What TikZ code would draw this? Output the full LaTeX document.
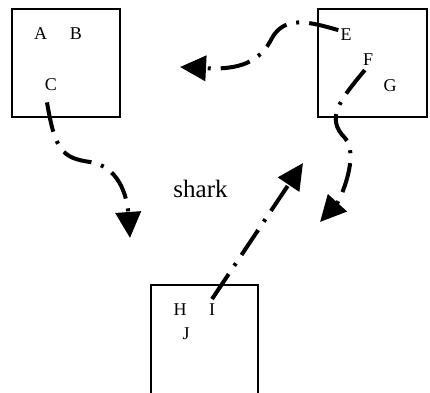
\documentclass[tikz,border=0pt]{standalone}
\usepackage{fontspec}
\setmainfont{Liberation Serif}
\usetikzlibrary{arrows.meta}
\begin{document}
\begin{tikzpicture}[x=1pt,y=-1pt,
		lbl/.style={inner sep=1pt,anchor=base,font=\fontsize{18}{20}\selectfont},
		flow/.style={line width=4pt,dash pattern=on 30pt off 10pt on 3pt off 10pt,
			-{Triangle[length=26pt,width=25pt]}}]
		\useasboundingbox (0,0) rectangle (430,392);
		% the three boxes
		\draw[line width=1.8pt] (12,9) rectangle (120,117);
		\draw[line width=1.8pt] (318,9) rectangle (427,117);
		\draw[line width=1.8pt] (151,393) -- (151,285) -- (258,285) -- (258,393);
		% letters
		\node[lbl] (A) at (40.5,39) {A};
		\node[lbl] (B) at (76,39) {B};
		\node[lbl] (C) at (51,90) {C};
		\node[lbl] (E) at (346,40) {E};
		\node[lbl] (F) at (368,65) {F};
		\node[lbl] (G) at (390,91) {G};
		\node[lbl] (H) at (180,315) {H};
		\node[lbl] (I) at (212,315) {I};
		\node[lbl] (J) at (186,339) {J};
		\node[anchor=base,font=\fontsize{25}{28}\selectfont] (shark) at (200.5,197) {shark};
		% free ends of the arrows
		\coordinate (tipC) at (130,238);
		\coordinate (tipE) at (180,67);
		\coordinate (tipF) at (320,222);
		\coordinate (tipI) at (303,163);
		\draw[flow] ([xshift=-4pt,yshift=-11pt]C.south) .. controls (55,150) and (62,158) .. (90,162)
			.. controls (118,166) and (127,195) .. (tipC);
		\draw[flow] ([xshift=-1pt,yshift=4pt]E.west) .. controls (310,22) and (285,15) .. (272,38)
			.. controls (260,62) and (240,70) .. (tipE);
		\draw[flow,shorten <=5pt] (F.south) .. controls (340,100) and (325,118) .. (345,138)
			.. controls (360,155) and (340,200) .. (tipF);
		\draw[flow] ([yshift=3pt]I.north) -- (tipI);
	\end{tikzpicture}
\end{document}
